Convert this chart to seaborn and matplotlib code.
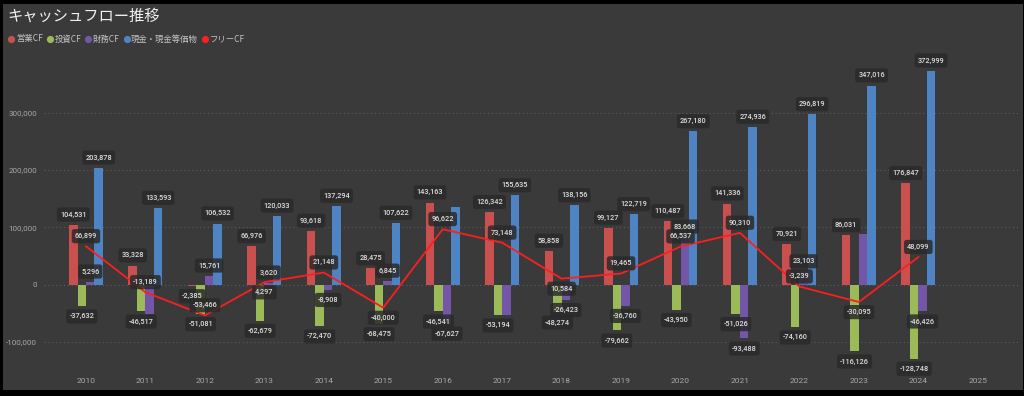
import numpy as np
import pandas as pd
import matplotlib
matplotlib.use("Agg")
import matplotlib.pyplot as plt
import seaborn as sns
from matplotlib.patches import Rectangle
from matplotlib.lines import Line2D
from matplotlib.ticker import FuncFormatter

# ---------------- data ----------------
years = [str(y) for y in range(2010, 2026)]
data_years = years[:15]
operating_cf = [104531, 33328, -2385, 66976, 93618, 28475, 143163, 126342,
                58858, 99127, 110487, 141336, 70921, 86031, 176847]
investing_cf = [-37632, -46517, -51081, -62679, -72470, -68475, -46541, -53194,
                -48274, -79662, -43950, -51026, -74160, -116126, -128748]
financing_cf = [5296, -51500, 15761, 3620, -8908, 6845, -67627, -52700,
                -26423, -36760, 83668, -93488, 23103, 89000, -46426]
cash_equiv = [203878, 133593, 106532, 120033, 137294, 107622, 135900, 155635,
              138156, 122719, 267180, 274936, 296819, 347016, 372999]
free_cf = [66899, -13189, -53466, 4297, 21148, -40000, 96622, 73148,
           10584, 19465, 66537, 90310, -3239, -30095, 48099]
series_names = ["営業CF", "投資CF", "財務CF", "現金・現金等価物"]
line_name = "フリーCF"
title_text = "キャッシュフロー推移"

# labels that the reference does not show (series index, year)
hidden_labels = {(2, "2011"), (2, "2017"), (2, "2023"), (3, "2016")}
free_label_below = {"2013", "2015", "2018", "2023"}

# ---------------- style ----------------
bar_colors = ["#C9504F", "#9BBB59", "#7356A8", "#4F84C4"]
line_color = "#FF1E1E"
panel_color = "#3a3a3a"
label_box = dict(boxstyle="round,pad=0.42,rounding_size=0.35", fc="#2a2a2a",
                 ec="none", alpha=0.85)

plt.rcParams["font.family"] = ["Roboto", "Noto Sans CJK JP", "DejaVu Sans"]

wide = pd.DataFrame({"year": data_years,
                     series_names[0]: operating_cf,
                     series_names[1]: investing_cf,
                     series_names[2]: financing_cf,
                     series_names[3]: cash_equiv})
long = wide.melt(id_vars="year", var_name="series", value_name="value")

W, H = 1024, 396
fig = plt.figure(figsize=(W / 100, H / 100), dpi=100, facecolor="black")
fig.patches.append(Rectangle((3 / W, (H - 390) / H), (W - 4) / W, (390 - 4) / H,
                             transform=fig.transFigure, fc=panel_color, ec="none",
                             zorder=-10))

ax_left, ax_right, ax_top, ax_bot = 44, 1020, 55.1, 370.8
ax = fig.add_axes([ax_left / W, 1 - ax_bot / H, (ax_right - ax_left) / W,
                   (ax_bot - ax_top) / H])
ax.set_facecolor("none")
ax.set_zorder(5)

sns.barplot(data=long, x="year", y="value", hue="series", order=years,
            hue_order=series_names, palette=bar_colors, width=0.57,
            saturation=1, errorbar=None, legend=False, ax=ax, zorder=2)

sns.lineplot(x=np.arange(len(data_years)), y=free_cf, color=line_color,
             linewidth=1.3, ax=ax, zorder=3)

ax.set_xlim(-0.706, 15.71)
ax.set_ylim(-150000, 400000)
ax.set_yticks([-100000, 0, 100000, 200000, 300000])
ax.yaxis.set_major_formatter(FuncFormatter(lambda v, p: f"{v:,.0f}"))
ax.yaxis.grid(True, linestyle=(0, (1, 2.5)), color="#5c5c5c", linewidth=0.8)
ax.set_axisbelow(True)
for s in ax.spines.values():
    s.set_visible(False)
ax.tick_params(length=0, colors="#a8a8a8", labelsize=6)
ax.tick_params(axis="y", pad=5, labelsize=5.8)
ax.tick_params(axis="x", pad=5)
ax.set_xlabel("")
ax.set_ylabel("")

series_values = [operating_cf, investing_cf, financing_cf, cash_equiv]
off = 7.3
lbl_font = dict(fontsize=5.3, color="#dcdcdc", fontweight="medium")
for i, cont in enumerate(ax.containers):
    for bar in cont:
        xc = bar.get_x() + bar.get_width() / 2
        idx = int(round(xc))
        if idx >= len(data_years):
            continue
        yr = data_years[idx]
        if (i, yr) in hidden_labels:
            continue
        v = series_values[i][idx]
        ax.annotate(f"{v:,}", (xc, v), xytext=(0, off if v >= 0 else -off),
                    textcoords="offset points", ha="center", va="center",
                    bbox=label_box, zorder=6, **lbl_font)

for idx, yr in enumerate(data_years):
    v = free_cf[idx]
    dy = -off if yr in free_label_below else off
    ax.annotate(f"{v:,}", (idx, v), xytext=(0, dy), textcoords="offset points",
                ha="center", va="center", bbox=label_box, zorder=7, **lbl_font)

fig.text(7 / W, 1 - 16.5 / H, title_text, fontsize=11, color="#f2f2f2",
         va="center", ha="left", family=["Noto Sans CJK JP", "DejaVu Sans"])

handles = [Line2D([], [], marker="o", ls="", markersize=5.2, color=c,
                  markeredgewidth=0) for c in bar_colors + [line_color]]
fig.legend(handles, series_names + [line_name], loc="center left",
           bbox_to_anchor=(5 / W, 1 - 39 / H), ncol=5, frameon=False,
           handlelength=0.7, handletextpad=0.2, columnspacing=0.5,
           borderaxespad=0, labelcolor="#c4c4c4",
           prop={"family": ["Noto Sans CJK JP", "DejaVu Sans"], "size": 6})

fig.savefig("out.png", dpi=100, facecolor="black")
